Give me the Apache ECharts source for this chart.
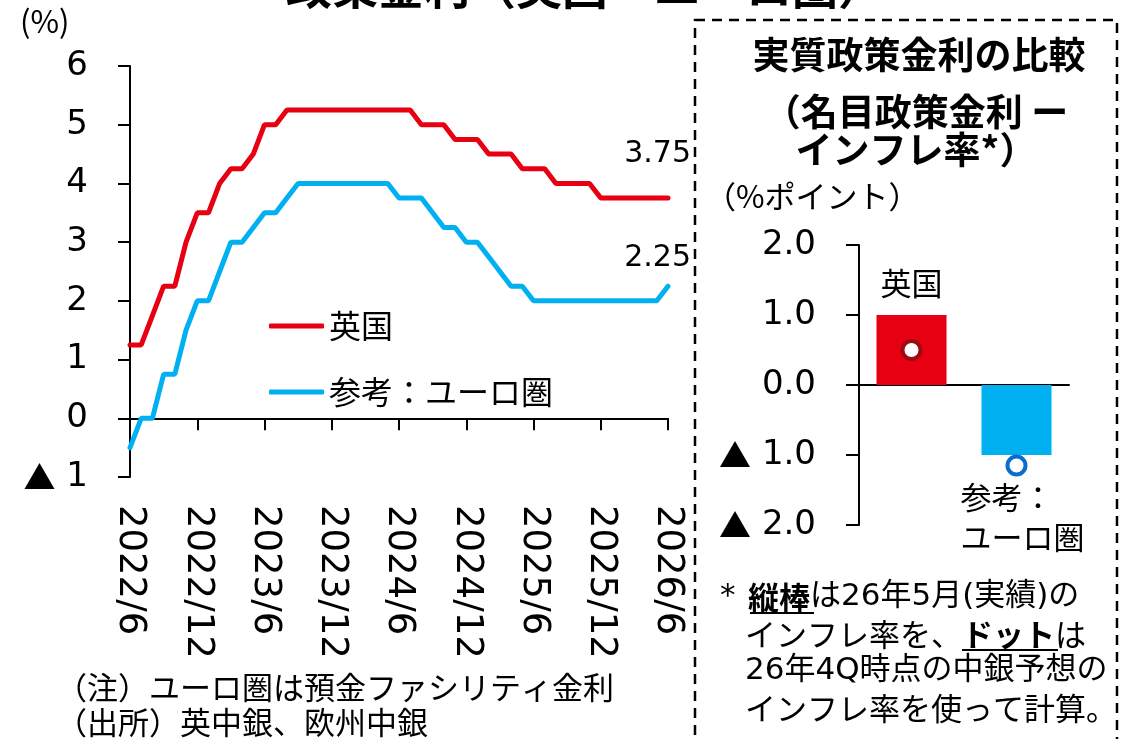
<!DOCTYPE html>
<html>
<head>
<meta charset="utf-8">
<script src="https://cdn.jsdelivr.net/npm/echarts@6/dist/echarts.min.js"></script>
<style>
  html, body { margin: 0; padding: 0; background: #fff; }
  #main { width: 1134px; height: 739px; }
</style>
</head>
<body>
<div id="main"></div>
<script>
// 月次 2022/6 〜 2026/6
const months = [];
for (let y = 2022, m = 6; y < 2026 || (y === 2026 && m <= 6); m++) {
    if (m > 12) { m = 1; y++; }
    months.push(y + '/' + m);
}
// 英国 政策金利
const ukRate = [1.25, 1.25, 1.75, 2.25, 2.25, 3.0, 3.5, 3.5, 4.0, 4.25, 4.25, 4.5, 5.0, 5.0,
    5.25, 5.25, 5.25, 5.25, 5.25, 5.25, 5.25, 5.25, 5.25, 5.25, 5.25, 5.25,
    5.0, 5.0, 5.0, 4.75, 4.75, 4.75, 4.5, 4.5, 4.5, 4.25, 4.25, 4.25,
    4.0, 4.0, 4.0, 4.0, 3.75, 3.75, 3.75, 3.75, 3.75, 3.75, 3.75];
// ユーロ圏 預金ファシリティ金利
const euRate = [-0.5, 0.0, 0.0, 0.75, 0.75, 1.5, 2.0, 2.0, 2.5, 3.0, 3.0, 3.25, 3.5, 3.5,
    3.75, 4.0, 4.0, 4.0, 4.0, 4.0, 4.0, 4.0, 4.0, 4.0, 3.75, 3.75,
    3.75, 3.5, 3.25, 3.25, 3.0, 3.0, 2.75, 2.5, 2.25, 2.25, 2.0, 2.0,
    2.0, 2.0, 2.0, 2.0, 2.0, 2.0, 2.0, 2.0, 2.0, 2.0, 2.25];

// 実質政策金利の比較
const realCats = ['英国', '参考：\nユーロ圏'];
const realBar = [1.0, -1.0];     // 26年5月実績インフレ率
const realDot = [0.5, -1.15];    // 26年4Q中銀予想インフレ率

const RED = '#e60012';
const BLUE = '#00b0f0';
const NUM = "'DejaVu Sans', 'Noto Sans CJK JP', sans-serif";
const JP = "'Noto Sans CJK JP', sans-serif";

// ▲付きの目盛ラベル
function tickFmt(digits) {
    return (v) => v < 0 ? '{t|▲} ' + Math.abs(v).toFixed(digits) : v.toFixed(digits);
}
const triRich = { t: { fontFamily: JP, fontSize: 32, color: '#000' } };

function endLabel(offset) {
    return {
        show: true, align: 'right', offset: offset,
        fontFamily: NUM, fontSize: 30, color: '#000',
        formatter: (p) => Number(p.value).toFixed(2)
    };
}

const myChart = echarts.init(document.getElementById('main'));
const option = {
    backgroundColor: '#fff',
    animation: false,
    grid: [
        { left: 130, top: 66, width: 538, height: 411, outerBoundsMode: 'none' },
        { left: 859, top: 245, width: 210, height: 280, outerBoundsMode: 'none' }
    ],
    legend: {
        orient: 'vertical',
        left: 264,
        top: 304,
        icon: 'roundRect',
        itemWidth: 55,
        itemHeight: 5,
        itemGap: 32,
        textStyle: { fontFamily: JP, fontSize: 32, lineHeight: 34, color: '#000' },
        data: ['英国', '参考：ユーロ圏']
    },
    xAxis: [{
        gridIndex: 0,
        type: 'category',
        boundaryGap: false,
        data: months,
        axisLine: { onZero: true, lineStyle: { color: '#000', width: 2 } },
        axisTick: { show: true, interval: 5, length: 12, lineStyle: { color: '#000', width: 2 } },
        axisLabel: { interval: 5, rotate: -90, margin: 28, fontFamily: NUM, fontSize: 37, color: '#000' }
    }, {
        gridIndex: 1,
        type: 'category',
        data: realCats,
        axisLine: { onZero: true, lineStyle: { color: '#000', width: 2 } },
        axisTick: { show: false },
        axisLabel: { show: false }
    }],
    yAxis: [{
        gridIndex: 0,
        type: 'value',
        min: -1,
        max: 6,
        interval: 1,
        splitLine: { show: false },
        axisLine: { show: true, lineStyle: { color: '#000', width: 2 } },
        axisTick: { show: true, length: 12, lineStyle: { color: '#000', width: 2 } },
        axisLabel: {
            margin: 42, fontFamily: NUM, fontSize: 34, color: '#000',
            formatter: tickFmt(0), rich: triRich
        }
    }, {
        gridIndex: 1,
        type: 'value',
        min: -2,
        max: 2,
        interval: 1,
        splitLine: { show: false },
        axisLine: { show: true, lineStyle: { color: '#000', width: 2 } },
        axisTick: { show: true, length: 13, lineStyle: { color: '#000', width: 2 } },
        axisLabel: {
            margin: 43, fontFamily: NUM, fontSize: 34, color: '#000',
            formatter: tickFmt(1), rich: triRich
        }
    }],
    series: [
        {
            name: '英国',
            type: 'line',
            xAxisIndex: 0,
            yAxisIndex: 0,
            data: ukRate,
            symbol: 'none',
            color: RED,
            lineStyle: { width: 5, color: RED, cap: 'round' },
            endLabel: endLabel([15, -44])
        },
        {
            name: '参考：ユーロ圏',
            type: 'line',
            xAxisIndex: 0,
            yAxisIndex: 0,
            data: euRate,
            symbol: 'none',
            color: BLUE,
            lineStyle: { width: 5, color: BLUE, cap: 'round' },
            endLabel: endLabel([15, -28])
        },
        {
            name: '実質',
            type: 'bar',
            xAxisIndex: 1,
            yAxisIndex: 1,
            barWidth: 70,
            data: realBar.map((v, i) => ({
                value: v,
                itemStyle: { color: i === 0 ? RED : BLUE },
                label: i === 0
                    ? { show: true, position: 'top', distance: 12 }
                    : { show: true, position: 'bottom', distance: 22, align: 'left', offset: [-56, 0] }
            })),
            label: {
                formatter: (p) => p.name,
                fontFamily: JP, fontSize: 31, lineHeight: 40, color: '#000'
            }
        },
        {
            name: '予想',
            type: 'scatter',
            xAxisIndex: 1,
            yAxisIndex: 1,
            symbol: 'circle',
            symbolSize: 18,
            data: realDot.map((v, i) => ({
                value: v,
                itemStyle: { color: '#fff', opacity: 1, borderWidth: 4, borderColor: i === 0 ? '#9e0b0f' : '#0a6ccc' }
            })),
            z: 5
        }
    ],
    graphic: [
        // 上部タイトル（切れている）
        { type: 'text', left: 240, top: -36,
          style: { text: '・政策金利（英国・ユーロ圏）', fontFamily: JP, fontWeight: 'bold', fontSize: 46, fill: '#000' } },
        { type: 'text', x: 20, y: 21,
          style: { text: '(%)', verticalAlign: 'middle', fontFamily: JP, fontSize: 31, fill: '#000' } },
        // 右パネル 枠
        { type: 'rect', shape: { x: 695, y: 20, width: 422, height: 760 },
          style: { fill: 'none', stroke: '#000', lineWidth: 2.5, lineDash: [10, 7] } },
        { type: 'text', x: 919, y: 55,
          style: { text: '実質政策金利の比較', align: 'center', verticalAlign: 'middle',
                   fontFamily: JP, fontWeight: 'bold', fontSize: 37, fill: '#000' } },
        { type: 'text', x: 916, y: 112,
          style: { text: '（名目政策金利 ー', align: 'center', verticalAlign: 'middle',
                   fontFamily: JP, fontWeight: 'bold', fontSize: 37, fill: '#000' } },
        { type: 'text', x: 916, y: 150,
          style: { text: 'インフレ率*）', align: 'center', verticalAlign: 'middle',
                   fontFamily: JP, fontWeight: 'bold', fontSize: 37, fill: '#000' } },
        { type: 'text', x: 705, y: 196,
          style: { text: '（%ポイント）', verticalAlign: 'middle', fontFamily: JP, fontSize: 31, fill: '#000' } },
        // 注記（右）
        { type: 'text', x: 720, y: 597,
          style: { text: '*', verticalAlign: 'middle', fontFamily: NUM, fontSize: 31, fill: '#000' } },
        { type: 'text', x: 748, y: 597,
          style: { text: '{b|縦棒}は26年5月(実績)の', verticalAlign: 'middle', fontFamily: NUM, fontSize: 31, fill: '#000',
                   rich: { b: { fontFamily: JP, fontSize: 31, fontWeight: 'bold' } } } },
        { type: 'text', x: 745, y: 634,
          style: { text: 'インフレ率を、{b|ドット}は', verticalAlign: 'middle', fontFamily: JP, fontSize: 31, fill: '#000',
                   rich: { b: { fontFamily: JP, fontSize: 31, fontWeight: 'bold' } } } },
        { type: 'text', x: 745, y: 671,
          style: { text: '26年4Q時点の中銀予想の', verticalAlign: 'middle', fontFamily: NUM, fontSize: 31, fill: '#000' } },
        { type: 'text', x: 745, y: 708,
          style: { text: 'インフレ率を使って計算。', verticalAlign: 'middle', fontFamily: JP, fontSize: 31, fill: '#000' } },
        { type: 'line', shape: { x1: 750, y1: 613, x2: 814, y2: 613 }, style: { stroke: '#000', lineWidth: 2 } },
        { type: 'line', shape: { x1: 962, y1: 650, x2: 1058, y2: 650 }, style: { stroke: '#000', lineWidth: 2 } },
        // 注記（左）
        { type: 'text', x: 56, y: 687,
          style: { text: '（注）ユーロ圏は預金ファシリティ金利', verticalAlign: 'middle', fontFamily: JP, fontSize: 31, fill: '#000' } },
        { type: 'text', x: 56, y: 722,
          style: { text: '（出所）英中銀、欧州中銀', verticalAlign: 'middle', fontFamily: JP, fontSize: 31, fill: '#000' } }
    ]
};
option && myChart.setOption(option);
</script>
</body>
</html>
